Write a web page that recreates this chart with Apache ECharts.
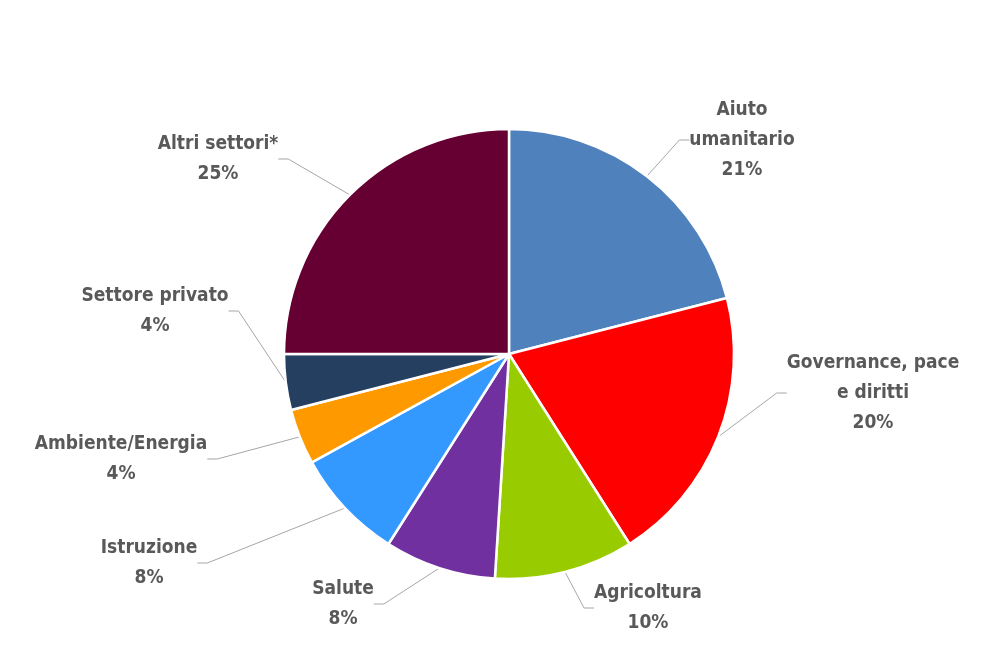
<!DOCTYPE html>
<html><head><meta charset="utf-8">
<script src="https://cdn.jsdelivr.net/npm/echarts@6/dist/echarts.min.js"></script>
<style>html,body{margin:0;padding:0;background:#fff}#c{width:1001px;height:645px}</style>
</head><body><div id="c"></div>
<script>
const categories = ['Aiuto\numanitario', 'Governance, pace\ne diritti', 'Agricoltura', 'Salute', 'Istruzione', 'Ambiente/Energia', 'Settore privato', 'Altri settori*'];
const values = [21, 20, 10, 8, 8, 4, 4, 25];
const colors = ['#4F81BD', '#FF0000', '#99CC00', '#7030A0', '#3399FF', '#FF9900', '#243F60', '#660033'];
// label anchor positions (layout only)
const labelPos = [[742, 140], [873, 393], [648, 608], [343, 604], [149, 563], [121, 459], [155, 311], [218, 159]];

const chart = echarts.init(document.getElementById('c'), null, {renderer: 'canvas'});
chart.setOption({
  animation: false,
  series: [{
    type: 'pie',
    center: [509, 354],
    radius: [0, 225],
    startAngle: 90,
    clockwise: true,
    avoidLabelOverlap: false,
    data: categories.map((n, i) => ({name: n, value: values[i], itemStyle: {color: colors[i]}})),
    itemStyle: {borderColor: '#fff', borderWidth: 2.5},
    label: {
      show: true,
      formatter: '{b}\n{c}%',
      color: '#595959',
      fontFamily: 'DejaVu Sans Condensed',
      fontWeight: 'bold',
      fontSize: 19,
      lineHeight: 30,
      align: 'center'
    },
    labelLine: {show: true, lineStyle: {color: '#A6A6A6', width: 1}, length: 10, length2: 10},
    labelLayout: function (p) {
      const pos = labelPos[p.dataIndex];
      return {x: pos[0], y: pos[1], align: 'center', verticalAlign: 'middle'};
    },
    emphasis: {disabled: true}
  }]
});
</script></body></html>
